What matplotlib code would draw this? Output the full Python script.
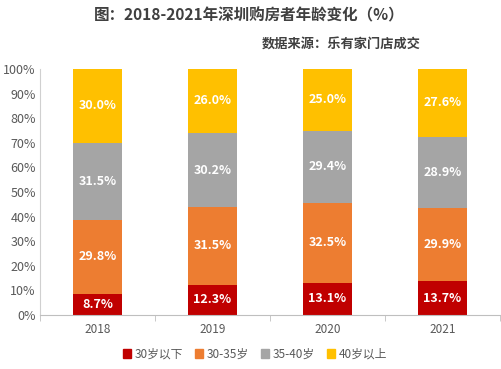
import matplotlib
matplotlib.use("Agg")
import matplotlib.pyplot as plt
import numpy as np
from matplotlib.patches import Patch

plt.rcParams['font.family'] = ['Noto Sans CJK SC', 'DejaVu Sans']

years = ["2018", "2019", "2020", "2021"]
series_names = ["30岁以下", "30-35岁", "35-40岁", "40岁以上"]
under30 = [8.7, 12.3, 13.1, 13.7]
age30_35 = [29.8, 31.5, 32.5, 29.9]
age35_40 = [31.5, 30.2, 29.4, 28.9]
over40 = [30.0, 26.0, 25.0, 27.6]
colors = ["#C00000", "#ED7D31", "#A5A5A5", "#FFC000"]
yticks = [0, 10, 20, 30, 40, 50, 60, 70, 80, 90, 100]

fig = plt.figure(figsize=(5.02, 3.69), dpi=100)
ax = fig.add_axes([40/502, 54/369, 460/502, 246/369])

x = np.arange(len(years))
bottom = np.zeros(len(years))
for vals, col in zip([under30, age30_35, age35_40, over40], colors):
    vals = np.array(vals)
    ax.bar(x, vals, 0.42, bottom=bottom, color=col, zorder=2)
    for xi, v, b in zip(x, vals, bottom):
        ax.text(xi, b + v/2, f"{v:.1f}%", ha='center', va='center', color='white',
                fontsize=9, fontweight='bold')
    bottom += vals

ax.set_xlim(-0.5, len(years) - 0.5)
ax.set_ylim(0, 100)
ax.set_yticks(yticks)
ax.set_yticklabels([f"{t}%" for t in yticks], fontsize=9, color='#595959')
ax.set_xticks(x)
ax.set_xticklabels(years, fontsize=8.5, color='#595959')
ax.set_xticks(np.arange(len(years) + 1) - 0.5, minor=True)
ax.tick_params(axis='x', which='major', length=0, pad=6)
ax.tick_params(axis='x', which='minor', length=4, color='#BFBFBF', direction='out')
ax.tick_params(axis='y', length=0, pad=3)
for s in ['top', 'right']:
    ax.spines[s].set_visible(False)
ax.spines['left'].set_color('#D0D0D0')
ax.spines['bottom'].set_color('#BFBFBF')

fig.text(249/502, 1 - 15/369, "图：2018-2021年深圳购房者年龄变化（%）", ha='center', va='center',
         fontsize=11.2, fontweight='bold', color='#404040')
fig.text(421/502, 1 - 45/369, "数据来源：乐有家门店成交", ha='right', va='center',
         fontsize=9.5, fontweight='bold', color='#404040')

handles = [Patch(color=c) for c in colors]
fig.legend(handles, series_names, loc='center', bbox_to_anchor=(255/502, 1 - 354/369),
           ncol=4, frameon=False, fontsize=8.5, handlelength=0.7, handleheight=0.7,
           handletextpad=0.3, columnspacing=1.0, labelcolor='#595959')

fig.savefig("out.png", dpi=100)
